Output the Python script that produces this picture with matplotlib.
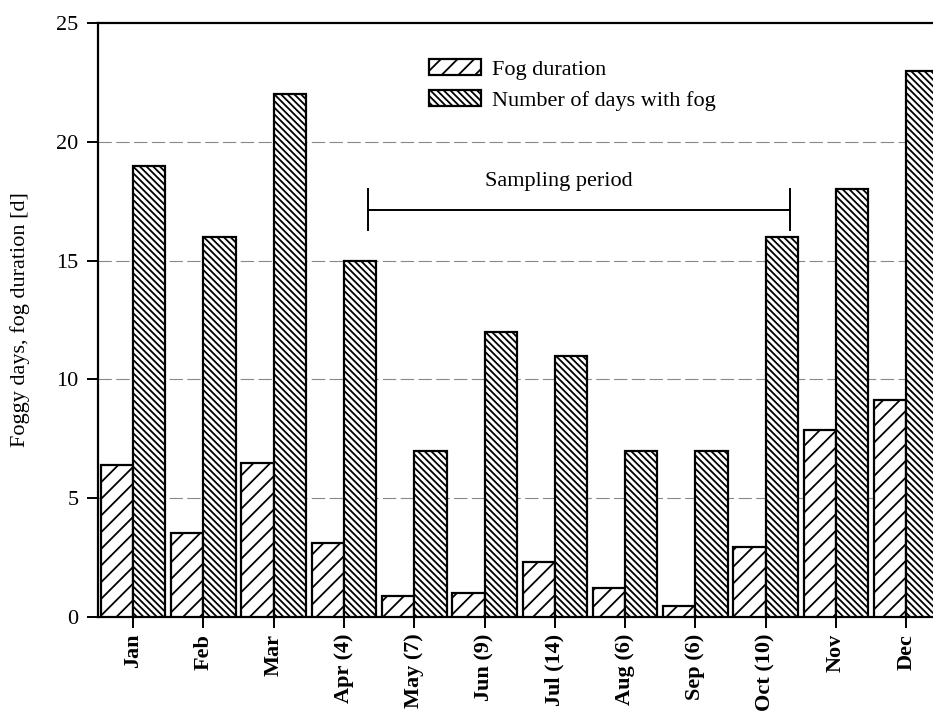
import matplotlib.pyplot as plt
import numpy as np

plt.rcParams['font.family'] = ['Liberation Serif', 'DejaVu Serif']
plt.rcParams['hatch.linewidth'] = 1.3

months = ['Jan', 'Feb', 'Mar', 'Apr (4)', 'May (7)', 'Jun (9)', 'Jul (14)',
          'Aug (6)', 'Sep (6)', 'Oct (10)', 'Nov', 'Dec']
fog_duration = [6.4, 3.55, 6.5, 3.1, 0.9, 1.0, 2.3, 1.2, 0.45, 2.95, 7.85, 9.15]
fog_days = [19, 16, 22, 15, 7, 12, 11, 7, 7, 16, 18, 23]

# sampling period bracket (month index units / days)
sampling_start = 3.34
sampling_end = 9.35
sampling_y = 17.15

fig = plt.figure(figsize=(9.33, 7.15), dpi=100)
ax = fig.add_axes([98 / 933, 98 / 715, 835 / 933, 594 / 715])

x = np.arange(len(months))
w = 0.46
ax.bar(x - w / 2, fog_duration, width=w, color='white', edgecolor='black',
       linewidth=1.6, hatch='//', label='Fog duration', zorder=3)
ax.bar(x + w / 2, fog_days, width=w, color='white', edgecolor='black',
       linewidth=1.6, hatch='\\' * 5, label='Number of days with fog', zorder=3)

# sampling period
ax.plot([sampling_start, sampling_end], [sampling_y, sampling_y], color='black', lw=1.4, zorder=4)
ax.plot([sampling_start, sampling_start], [sampling_y - 0.85, sampling_y + 0.85], color='black', lw=1.4, zorder=4)
ax.plot([sampling_end, sampling_end], [sampling_y - 0.85, sampling_y + 0.85], color='black', lw=1.4, zorder=4)
ax.text(6.05, 18.35, 'Sampling period', ha='center', va='center', fontsize=16)

ax.set_xlim(-0.5, 11.38)
ax.set_ylim(0, 25)
ax.set_yticks([0, 5, 10, 15, 20, 25])
ax.set_xticks(x)
ax.set_xticklabels(months, rotation=90, fontsize=16, fontweight='bold')
ax.tick_params(axis='y', labelsize=16, direction='out', length=8, width=1.4, pad=6)
ax.tick_params(axis='x', direction='out', length=8, width=1.4, pad=4)
ax.set_ylabel('Foggy days, fog duration [d]', fontsize=16, labelpad=19)

for yv in [5, 10, 15, 20]:
    ax.axhline(yv, color='#888888', lw=0.8, ls=(0, (12, 4)), zorder=1)

ax.spines['right'].set_visible(False)
for s in ['left', 'top', 'bottom']:
    ax.spines[s].set_linewidth(1.6)

ax.legend(loc='upper left', bbox_to_anchor=(0.373, 0.973), frameon=False, fontsize=16,
          handlelength=2.3, handleheight=0.75, labelspacing=0.45, handletextpad=0.5,
          borderpad=0.4)

fig.savefig('out.png', dpi=100)
